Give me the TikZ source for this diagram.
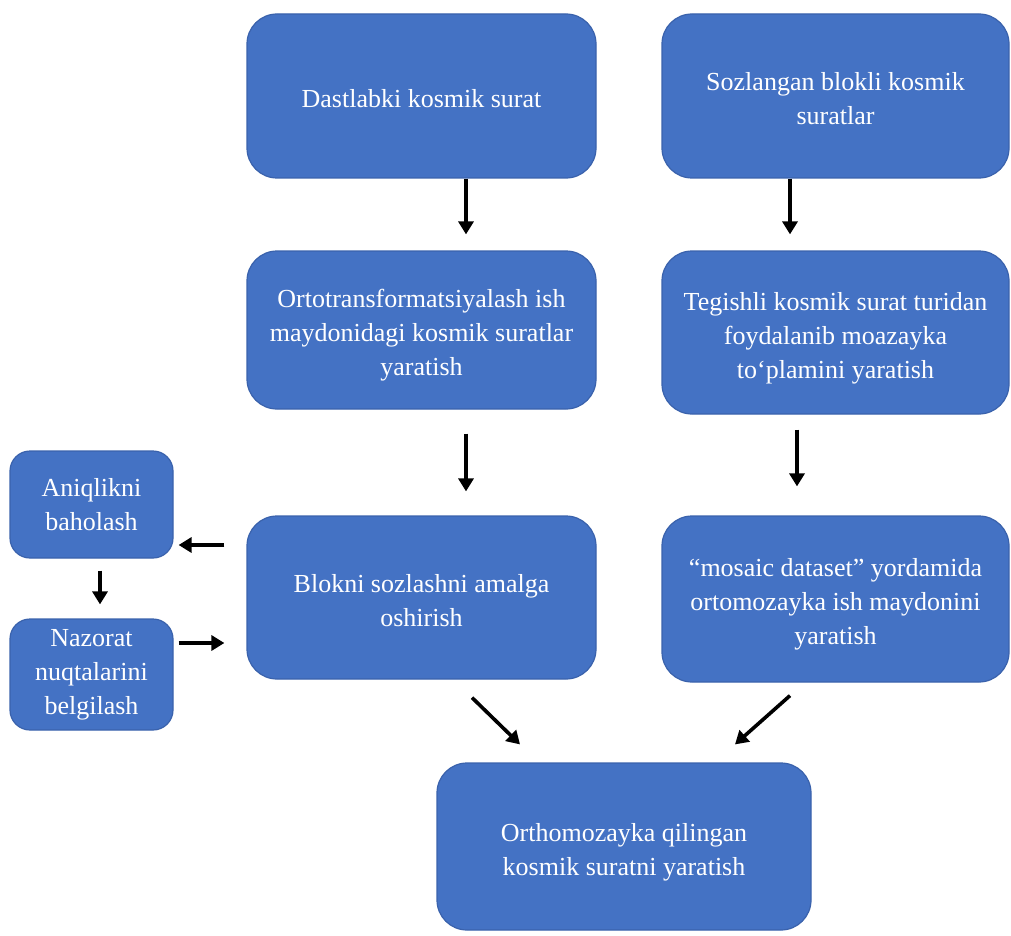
\documentclass[tikz,border=0pt]{standalone}
\usepackage{fontspec}
\setmainfont{Liberation Serif}
\usetikzlibrary{calc,arrows.meta}
\definecolor{boxblue}{HTML}{4472C4}
\definecolor{boxedge}{HTML}{3A62AC}
\newcommand\boxtext[1]{\raisebox{-5pt}[\height][\depth]{\begin{tabular}{@{}c@{}}#1\end{tabular}}}
\tikzset{
	box/.style={draw=boxedge, line width=1.2pt, fill=boxblue, rounded corners=30pt, align=center,
		text=white, font=\fontsize{26}{34}\selectfont, inner sep=0pt},
	smallbox/.style={box, rounded corners=20pt},
	arr/.style={line width=3.6pt, -{Triangle[width=15pt,length=13pt]}}
}

\begin{document}
\begin{tikzpicture}[x=1pt, y=-1pt]
			%%%%% START %%%%%
			
			\useasboundingbox (0, 0) rectangle (1011, 936);
			
			\node[box, minimum width=349pt, minimum height=164pt] (start) at (421.5, 96) {\boxtext{Dastlabki kosmik surat}};
			\node[box, minimum width=347pt, minimum height=164pt] (blocks) at (835.5, 96) {\boxtext{Sozlangan blokli kosmik\\suratlar}};
			
			\node[box, minimum width=349pt, minimum height=158pt] (ortho) at (421.5, 330) {\boxtext{Ortotransformatsiyalash ish\\maydonidagi kosmik suratlar\\yaratish}};
			\node[box, minimum width=347pt, minimum height=163pt] (collect) at (835.5, 332.5) {\boxtext{Tegishli kosmik surat turidan\\foydalanib moazayka\\to‘plamini yaratish}};
			
			\node[box, minimum width=349pt, minimum height=163pt] (adjust) at (421.5, 597.5) {\boxtext{Blokni sozlashni amalga\\oshirish}};
			\node[box, minimum width=347pt, minimum height=166pt] (mosaic) at (835.5, 599) {\boxtext{“mosaic dataset” yordamida\\ortomozayka ish maydonini\\yaratish}};
			
			\node[smallbox, minimum width=163pt, minimum height=107pt] (accuracy) at (91.5, 504.5) {Aniqlikni\\baholash};
			\node[smallbox, minimum width=163pt, minimum height=111pt] (control) at (91.5, 674.5) {Nazorat\\nuqtalarini\\belgilash};
			
			\node[box, minimum width=374pt, minimum height=167pt] (result) at (624, 846.5) {\boxtext{Orthomozayka qilingan\\kosmik suratni yaratish}};
			
			% vertical arrows
			\draw[arr, shorten >=16pt] ([xshift=44.5pt]start.south) -- ([xshift=44.5pt]ortho.north);
			\draw[arr, shorten >=16pt] ([xshift=-45.5pt]blocks.south) -- ([xshift=-45.5pt]collect.north);
			\draw[arr, shorten <=24pt, shorten >=24pt] ([xshift=44.5pt]ortho.south) -- ([xshift=44.5pt]adjust.north);
			\draw[arr, shorten <=15pt, shorten >=29pt] ([xshift=-38.5pt]collect.south) -- ([xshift=-38.5pt]mosaic.north);
			
			% side loop
			\draw[arr, shorten <=22pt, shorten >=5pt] ([yshift=52.5pt]adjust.west) -- ([yshift=-40.5pt]accuracy.east);
			\draw[arr, shorten <=12pt, shorten >=14pt] ([xshift=8.5pt]accuracy.south) -- ([xshift=8.5pt]control.north);
			\draw[arr, shorten <=5pt, shorten >=22pt] ([yshift=31.5pt]control.east) -- ([yshift=-45.5pt]adjust.west);
			
			% into the result
			\draw[arr] ($(adjust.south)+(50.5, 18)$) -- ($(result.north)+(-104, -18)$);
			\draw[arr] ($(mosaic.south)+(-45.5, 13)$) -- ($(result.north)+(111, -18)$);
			
			%%%%% END %%%%%
		\end{tikzpicture}
\end{document}
